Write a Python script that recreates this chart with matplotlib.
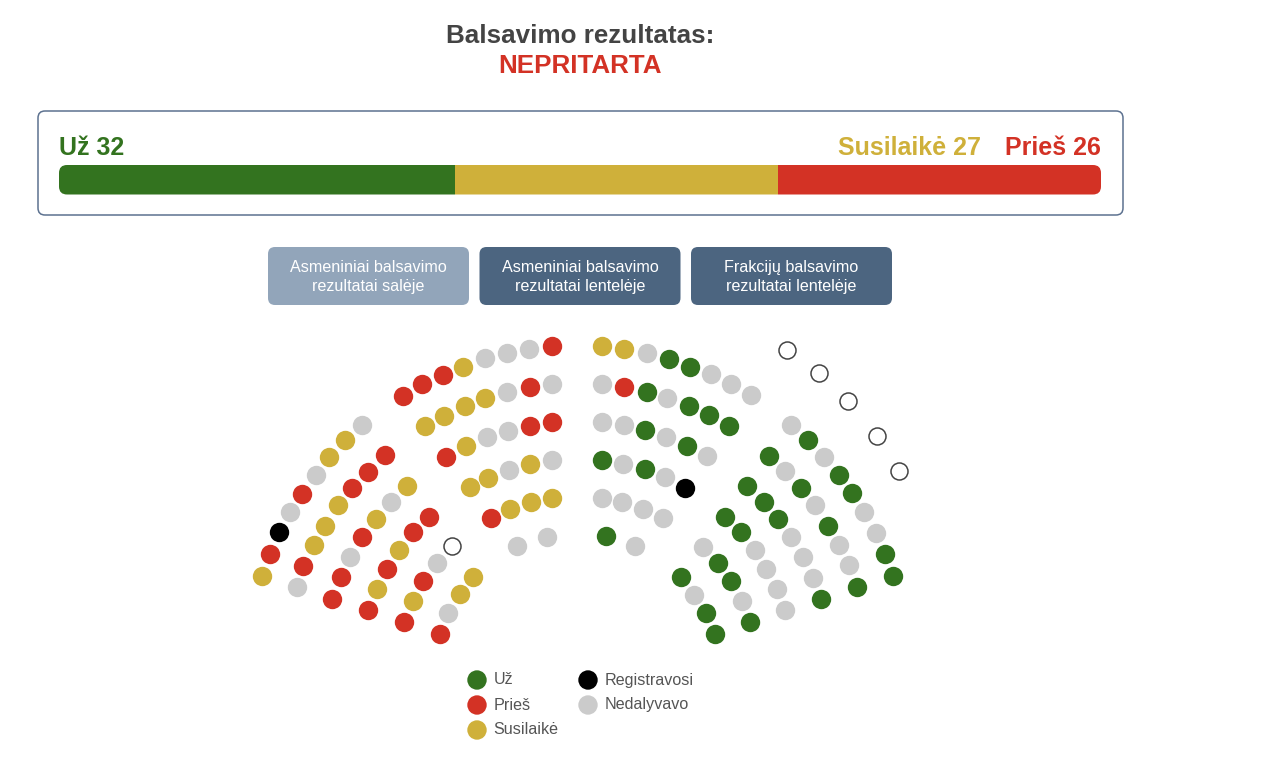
import numpy as np
from matplotlib import pyplot as plt
from matplotlib.patches import FancyBboxPatch

plt.rcParams['font.family'] = ['Liberation Sans', 'DejaVu Sans']

GREEN = '#33731f'
RED = '#d33225'
YELLOW = '#cfb03a'
GREY = '#cbcbcb'
BLACK = '#000000'
SLATE = '#4c6580'
SLATE_LIGHT = '#92a5ba'
TEXT = '#444444'

title = 'Balsavimo rezultatas:'
outcome = 'NEPRITARTA'
bar_labels = ['Už 32', 'Susilaikė 27', 'Prieš 26']
bar_shares = [38, 31, 31]
bar_colors = [GREEN, YELLOW, RED]
buttons = ['Asmeniniai balsavimo\nrezultatai salėje',
           'Asmeniniai balsavimo\nrezultatai lentelėje',
           'Frakcijų balsavimo\nrezultatai lentelėje']

# seats, row by row, U=už P=prieš S=susilaikė
# R=registravosi N=nedalyvavo O=empty seat
seat_x = [
    # left centre block
    402.7, 421.7, 442.7, 463.3, 485.3, 507, 529, 551.7,
    424.7, 444.3, 465.3, 485.3, 507, 530, 551.7,
    446.3, 466.3, 487.3, 508, 530, 551.7,
    469.7, 488.3, 509, 530, 551.7,
    491, 510.3, 531, 551.7,
    516.7, 546.7,
    # left block
    261.7, 269.7, 278.7, 289.7, 301.7, 315.7, 329.3, 345.3, 362.3,
    296.7, 303.3, 314.3, 325.3, 338, 352, 368, 384.7,
    332.3, 341.3, 350, 362, 376, 391, 406.7,
    368, 377, 387, 399, 412.7, 428.7,
    403.7, 412.7, 422.7, 436.7, 451.7,
    439.7, 447.7, 459.7, 473.3,
    # right centre block
    601.7, 624.3, 646.7, 669, 690, 711, 730.7, 751.3,
    601.7, 624.3, 646.7, 667, 689, 709, 728.7,
    601.7, 624.3, 645.3, 666, 687, 707,
    601.7, 623.3, 645.3, 665.3, 685.3,
    601.7, 622.3, 643.3, 663.3,
    606.3, 635.3,
    # right block
    787.3, 819, 848, 877, 898.7,
    791.3, 808.3, 824.3, 839, 852, 864, 876, 885, 892.7,
    769.3, 785.3, 801.3, 815.3, 828.3, 839, 849, 857,
    746.7, 764, 778.3, 791.3, 803.3, 813, 821.3,
    724.7, 740.7, 754.7, 766.3, 777.3, 785.3,
    703, 718, 730.7, 741.7, 749.7,
    681, 694, 706, 715,
]
seat_y = [
    396, 384.3, 375.3, 366.7, 358.3, 353.3, 349.3, 346.3,
    426.3, 416.3, 406, 398, 392.3, 387, 384.3,
    456.7, 446, 437, 431, 426, 422,
    486.7, 477.7, 469.7, 463.7, 460,
    517.7, 508.7, 501.7, 498,
    546.3, 537.3,

    576.3, 554.3, 532.3, 512.3, 493.7, 474.7, 456.7, 440, 425,
    587.3, 566, 545.3, 525.7, 505.3, 487.7, 471.7, 455,
    599, 577.3, 557, 537.3, 518.7, 501.7, 485.7,
    610, 589, 569.3, 550.3, 532.3, 516.7,
    621.7, 601, 581.3, 563.3, 546.3,
    634, 613.3, 594.3, 577.3,

    346.3, 349.3, 353.3, 359.3, 366.7, 374.3, 384.3, 395,
    384.3, 387, 392.3, 398.3, 406, 415, 426,
    422, 425, 430, 437, 446, 456,
    460, 463.7, 468.7, 477, 487.7,
    498, 501.7, 508.7, 517.7,
    536.3, 546.3,

    350.3, 373.3, 401, 436, 470.7,
    425, 440, 456.7, 474.7, 492.7, 512.3, 533.3, 554.3, 576.3,
    456, 470.7, 487.7, 505.3, 525.7, 545.3, 565.3, 587.3,
    485.7, 501.7, 519.3, 537.3, 557, 578.3, 599,
    516.7, 532.3, 550.3, 569.3, 589, 610,
    547.3, 563.3, 581.3, 601, 622,
    577.3, 595.3, 613, 634,
]
seat_vote = (
    'PPPSNNNP' 'SSSSNPN' 'PSNNPP' 'SSNSN' 'PSSS' 'NN'
    'SPRNPNSSN' 'NPSSSPPP' 'PPNPSNS' 'PSPSPP' 'PSPNO' 'PNSS'
    'SSNUUNNN' 'NPUNUUU' 'NNUNUN' 'UNUNR' 'NNNN' 'UN'
    'OOOOO' 'NUNUUNNUU' 'UNUNUNNU' 'UUUNNNU' 'UUNNNN' 'NUUNU' 'UNUU'
)
vote_colors = {'U': GREEN, 'P': RED, 'S': YELLOW, 'R': BLACK, 'N': GREY}
legend_names = ['Už', 'Prieš', 'Susilaikė', 'Registravosi', 'Nedalyvavo']
legend_colors = [GREEN, RED, YELLOW, BLACK, GREY]

fig = plt.figure(figsize=(12.8, 7.61), dpi=100)
ax = fig.add_axes([0, 0, 1, 1])
ax.set_xlim(0, 1280)
ax.set_ylim(761, 0)
ax.axis('off')

# heading
ax.text(580, 36, title, ha='center', va='center', fontsize=18.7, fontweight='bold', color=TEXT)
ax.text(580, 66, outcome, ha='center', va='center', fontsize=18.7, fontweight='bold', color=RED)

# result box
ax.add_patch(FancyBboxPatch((38, 111), 1085, 104, boxstyle='round,pad=0,rounding_size=7',
                            fc='white', ec='#5d7290', lw=1.1))
ax.text(59, 148, bar_labels[0], ha='left', va='center', fontsize=18, fontweight='bold', color=GREEN)
ax.text(981, 148, bar_labels[1], ha='right', va='center', fontsize=18, fontweight='bold', color=YELLOW)
ax.text(1101, 148, bar_labels[2], ha='right', va='center', fontsize=18, fontweight='bold', color=RED)

# stacked bar, clipped to a rounded outline
bar_left, bar_width = 59, 1042
clip = FancyBboxPatch((bar_left, 165), bar_width, 29.5, boxstyle='round,pad=0,rounding_size=8',
                      fc='none', ec='none')
ax.add_patch(clip)
lefts = bar_left + np.cumsum([0] + bar_shares[:-1]) / 100 * bar_width
for left, share, color in zip(lefts, bar_shares, bar_colors):
    bars = ax.barh(179.75, share / 100 * bar_width, height=29.5, left=left, color=color)
    bars[0].set_clip_path(clip)

# buttons
button_left = [268, 479.5, 691]
button_color = [SLATE_LIGHT, SLATE, SLATE]
for left, label, color in zip(button_left, buttons, button_color):
    ax.add_patch(FancyBboxPatch((left, 247), 201, 58, boxstyle='round,pad=0,rounding_size=7',
                                fc=color, ec='none'))
    ax.text(left + 100.5, 277, label, ha='center', va='center', fontsize=11.6, color='white',
            linespacing=1.38)

# seats
seat_x = np.array(seat_x)
seat_y = np.array(seat_y)
votes = np.array(list(seat_vote))
for vote, color in vote_colors.items():
    ax.scatter(seat_x[votes == vote], seat_y[votes == vote], s=195, color=color, linewidths=0)
ax.scatter(seat_x[votes == 'O'], seat_y[votes == 'O'], s=150, facecolors='white',
           edgecolors='#444444', linewidths=1.1)

# legend
legend_x = [477, 477, 477, 588, 588]
legend_y = [680, 705, 730, 680, 705]
ax.scatter(legend_x, legend_y, s=195, color=legend_colors, linewidths=0)
for x, y, name in zip(legend_x, legend_y, legend_names):
    ax.text(x + 16.5, y, name, ha='left', va='center', fontsize=11.6, color='#555555')

fig.savefig('out.png', dpi=100)
